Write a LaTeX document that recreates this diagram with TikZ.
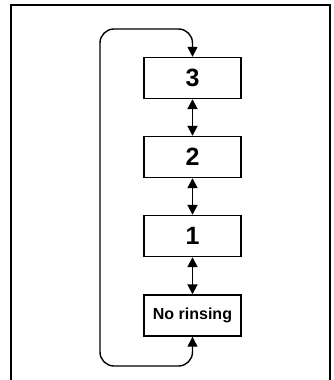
\documentclass[tikz,border=0pt]{standalone}
\usepackage{fontspec}
\setmainfont{Liberation Sans}
\usetikzlibrary{arrows.meta}
\begin{document}
\begin{tikzpicture}[x=1pt,y=-1pt,
  stagebox/.style={draw,line width=1.4pt,minimum width=97pt,minimum height=41pt,inner sep=0pt,font=\bfseries},
  link/.style={line width=1.8pt,{Triangle[width=10pt,length=10pt]}-{Triangle[width=10pt,length=10pt]}},
  loopline/.style={line width=1.4pt,rounded corners=14pt,{Triangle[width=10pt,length=10pt]}-{Triangle[width=10pt,length=10pt]}}]
\useasboundingbox (0,0) rectangle (334,380);
\draw[line width=2.6pt] (11,390) -- (11,5) -- (330,5) -- (330,390);
\node[stagebox,font=\bfseries\fontsize{25}{25}\selectfont] (s3) at (192.5,78) {3};
\node[stagebox,font=\bfseries\fontsize{25}{25}\selectfont] (s2) at (192.5,157) {2};
\node[stagebox,font=\bfseries\fontsize{25}{25}\selectfont] (s1) at (192.5,236) {1};
\node[stagebox,font=\bfseries\fontsize{16}{16}\selectfont] (nr) at (192.5,315.5) {No rinsing};
\draw[link] (s3) -- (s2);
\draw[link] (s2) -- (s1);
\draw[link] (s1) -- (nr);
\coordinate (bl) at (100,366);
\coordinate (tl) at (100,29);
\draw[loopline] (nr.south) |- (bl) -- (tl) -| (s3.north);
\end{tikzpicture}
\end{document}
